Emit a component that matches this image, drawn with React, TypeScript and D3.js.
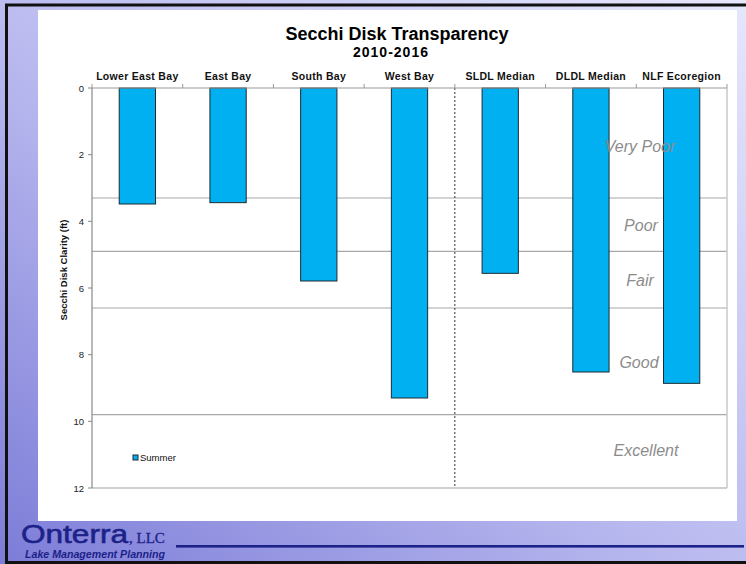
import React from 'react';
import * as d3 from 'd3';

const categories = ['Lower East Bay', 'East Bay', 'South Bay', 'West Bay', 'SLDL Median', 'DLDL Median', 'NLF Ecoregion'];
const summerValues = [3.48, 3.44, 5.79, 9.3, 5.56, 8.52, 8.86];
const yTicks = [0, 2, 4, 6, 8, 10, 12];
const thresholds = [3.3, 4.9, 6.6, 9.8];
const bandLabels = ['Very Poor', 'Poor', 'Fair', 'Good', 'Excellent'];
const bandLabelDepths = [1.91, 4.29, 5.94, 8.39, 11.04];
const seriesName = 'Summer';
const titleText = 'Secchi Disk Transparency';
const subtitleText = '2010-2016';
const yTitleText = 'Secchi Disk Clarity (ft)';

const W = 746;
const H = 564;
const plot = { left: 92, right: 727, top: 88, bottom: 488 };
const FONT = '"Liberation Sans", Arial, sans-serif';
const BAR = '#00B0F0';
const NAVY = '#1c2288';

export default function App() {
  const x = d3.scaleBand<string>().domain(categories).range([plot.left, plot.right]).paddingInner(0.6).paddingOuter(0.3);
  const y = d3.scaleLinear().domain([0, 12]).range([plot.top, plot.bottom]);
  const step = x.step();
  const boundaries = d3.range(categories.length + 1).map((i) => plot.left + i * step);
  const sepX = plot.left + 4 * step;
  const labelXs = [640, 641, 640, 639, 646];

  return (
    <svg width={W} height={H} style={{ position: 'absolute', left: 0, top: 0, display: 'block' }} fontFamily={FONT}>
      <defs>
        <linearGradient id="bg" x1="0" y1="1" x2="1" y2="0">
          <stop offset="0" stopColor="#7c7cd8" />
          <stop offset="0.45" stopColor="#b8b8ef" />
          <stop offset="1" stopColor="#e6e6fc" />
        </linearGradient>
      </defs>
      <rect x={0} y={0} width={W} height={H} fill="url(#bg)" />
      <rect x={6.5} y={5} width={W + 10} height={557.5} fill="none" stroke="#111" strokeWidth={3} />
      <rect x={38} y={10} width={699} height={511} fill="#fff" />

      {/* title */}
      <text x={397} y={40} textAnchor="middle" fontSize={18} fontWeight="bold" fill="#000">{titleText}</text>
      <text x={391} y={57} textAnchor="middle" fontSize={14} fontWeight="bold" fill="#000" letterSpacing={1}>{subtitleText}</text>

      {/* threshold lines */}
      {thresholds.map((t, i) => (
        <line key={'t' + i} x1={plot.left} x2={plot.right} y1={y(t)} y2={y(t)} stroke="#a8a8a8" strokeWidth={1.2} />
      ))}

      {/* plot borders */}
      <line x1={plot.right} x2={plot.right} y1={plot.top} y2={plot.bottom} stroke="#c8c8c8" strokeWidth={1.5} />
      <line x1={plot.left} x2={plot.right} y1={plot.bottom} y2={plot.bottom} stroke="#cfcfcf" strokeWidth={2} />

      {/* separator */}
      <line x1={sepX} x2={sepX} y1={plot.top} y2={plot.bottom} stroke="#333" strokeWidth={1} strokeDasharray="2,2" />

      {/* bars */}
      {categories.map((c, i) => (
        <rect key={c} x={x(c)} y={y(0)} width={x.bandwidth()} height={y(summerValues[i]) - y(0)} fill={BAR} stroke="#1e2a33" strokeWidth={1} />
      ))}

      {/* top axis */}
      <line x1={plot.left} x2={plot.right} y1={plot.top} y2={plot.top} stroke="#999" strokeWidth={1.2} />
      {boundaries.map((bx, i) => (
        <line key={'b' + i} x1={bx} x2={bx} y1={plot.top} y2={plot.top - 4} stroke="#999" strokeWidth={1} />
      ))}
      {categories.map((c) => (
        <text key={'l' + c} x={(x(c) as number) + x.bandwidth() / 2} y={80} textAnchor="middle" fontSize={10.5} fontWeight="bold" fill="#111" letterSpacing={0.3}>{c}</text>
      ))}

      {/* left axis */}
      <line x1={plot.left} x2={plot.left} y1={plot.top} y2={plot.bottom} stroke="#888" strokeWidth={1.2} />
      {yTicks.map((t) => (
        <g key={'y' + t}>
          <line x1={plot.left - 4} x2={plot.left} y1={y(t)} y2={y(t)} stroke="#888" strokeWidth={1} />
          <text x={84} y={y(t) + 3.5} textAnchor="end" fontSize={9.5} fill="#222">{t}</text>
        </g>
      ))}
      <text transform={`translate(67,270) rotate(-90)`} textAnchor="middle" fontSize={9.5} fontWeight="bold" fill="#111">{yTitleText}</text>

      {/* band labels */}
      {bandLabels.map((b, i) => (
        <text key={b} x={labelXs[i]} y={y(bandLabelDepths[i])} textAnchor="middle" fontSize={16} fontStyle="italic" fill="#8c8c8c">{b}</text>
      ))}

      {/* legend */}
      <rect x={133} y={455} width={5} height={5} fill={BAR} stroke="#1e2a33" strokeWidth={1} />
      <text x={140} y={461} fontSize={9.5} fill="#111">{seriesName}</text>

      {/* logo */}
      <text x={21} y={543} fontSize={26} fill={NAVY} stroke={NAVY} strokeWidth={0.6} textLength={107} lengthAdjust="spacingAndGlyphs">Onterra</text>
      <text x={129} y={543} fontSize={15} fill={NAVY} fontFamily='"Liberation Serif", serif' stroke={NAVY} strokeWidth={0.3}>, LLC</text>
      <text x={25} y={558} fontSize={10.5} fontStyle="italic" fontWeight="bold" fill={NAVY} textLength={140} lengthAdjust="spacingAndGlyphs">Lake Management Planning</text>
      <rect x={176} y={545} width={568} height={2.6} fill={NAVY} />
    </svg>
  );
}
